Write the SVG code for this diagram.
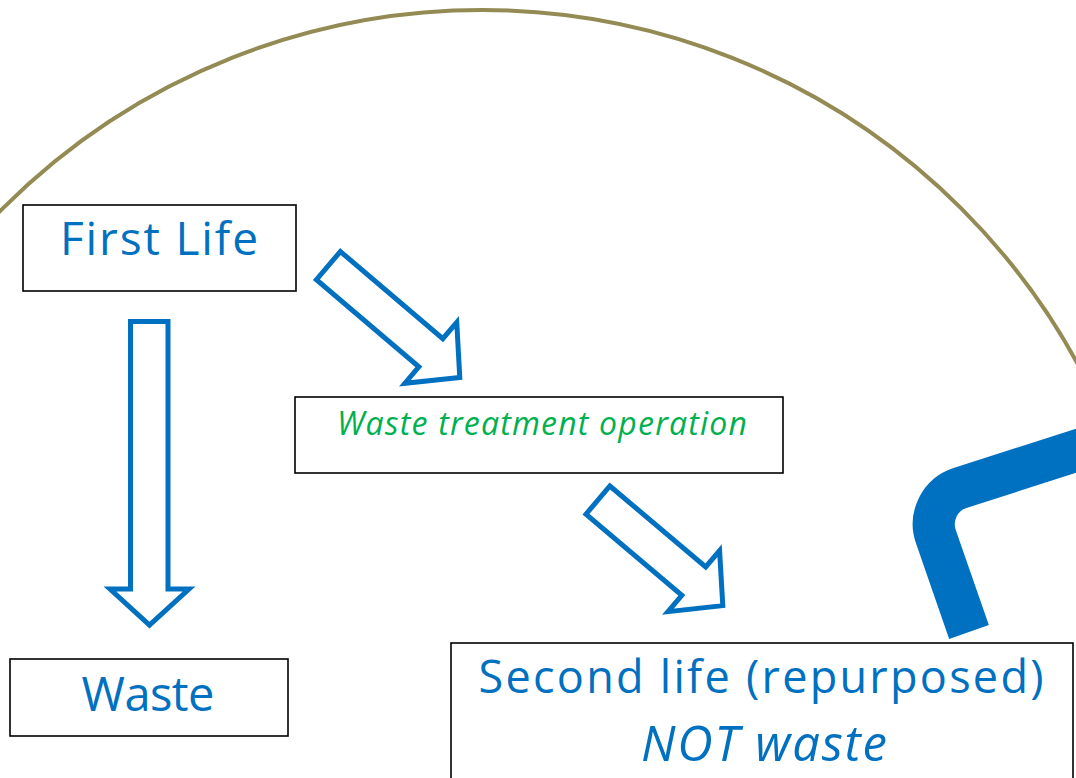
<svg xmlns="http://www.w3.org/2000/svg" width="1076" height="778" viewBox="0 0 1076 778">
<style>
.box{fill:#fff;stroke:#000;stroke-width:1.6}
.lbl{font-family:"Open Sans","Noto Sans","DejaVu Sans",sans-serif;fill:#0070C0;text-anchor:middle}
.it{font-style:italic}
.green{fill:#00B050}
.barrow{fill:#fff;stroke:#0070C0;stroke-width:5;stroke-linejoin:miter}
</style>
<rect width="1076" height="778" fill="#fff"/>
<circle id="arc" cx="482" cy="688" r="678" fill="none" stroke="#948A54" stroke-width="4"/>
<g id="first-life">
<rect class="box" x="23" y="205" width="273" height="86"/>
<text class="lbl" x="159" y="255" font-size="46" textLength="198">First Life</text>
</g>
<g id="waste">
<rect class="box" x="10" y="659" width="278" height="77"/>
<text class="lbl" x="148" y="711" font-size="47" textLength="133">Waste</text>
</g>
<g id="treatment">
<rect class="box" x="295" y="397" width="488" height="76"/>
<text class="lbl it green" x="542" y="435" font-size="32" textLength="410">Waste treatment operation</text>
</g>
<g id="second-life">
<rect class="box" x="451" y="643" width="622" height="150"/>
<text class="lbl" x="761" y="693" font-size="45" textLength="565">Second life (repurposed)</text>
<text class="lbl it" x="764" y="761" font-size="49" textLength="246">NOT waste</text>
</g>
<g id="connectors">
<polygon class="barrow" points="130.5,321.5 168,321.5 168,589 189,589 149.5,625 110,589 130.5,589"/>
<polygon class="barrow" transform="translate(326.5,264) rotate(40.4)" points="2.5,-18.5 137,-18.5 137,-40 175,0 137,40 137,18.5 2.5,18.5"/>
<polygon class="barrow" transform="translate(596,498.5) rotate(40.2)" points="2.5,-18.5 128,-18.5 128,-40 166,0 128,40 128,18.5 2.5,18.5"/>
<path id="bend" d="M1103,442 L960,488 A38,38 0 0 0 936,537 L969,632" fill="none" stroke="#0070C0" stroke-width="42"/>
</g>
</svg>
